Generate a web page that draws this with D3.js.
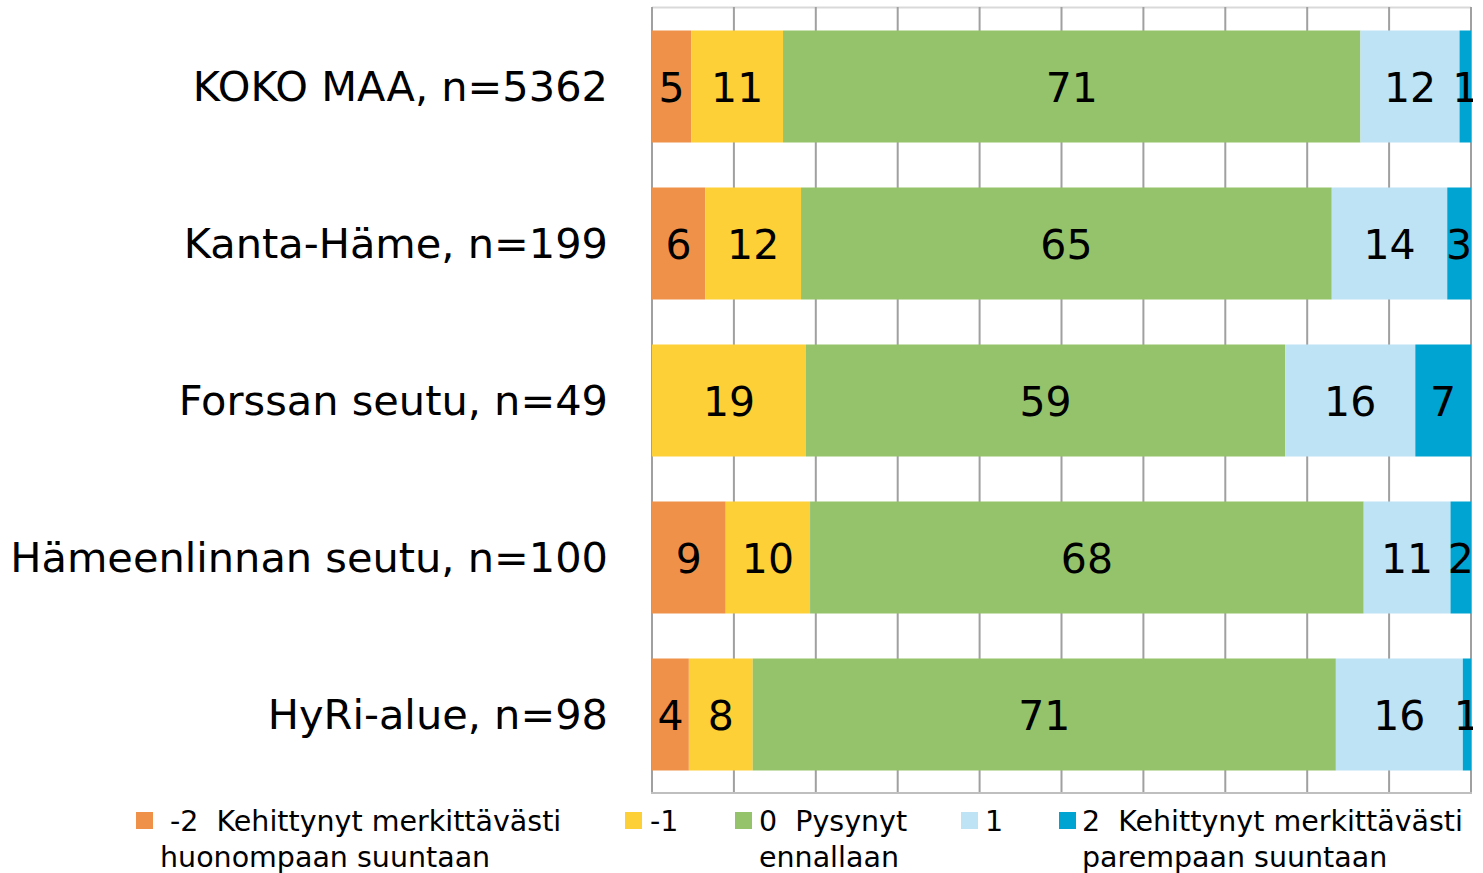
<!DOCTYPE html>
<html>
<head>
<meta charset="utf-8">
<script src="https://cdn.jsdelivr.net/npm/d3@7/dist/d3.min.js"></script>
<style>
  html, body { margin: 0; padding: 0; background: #ffffff; }
  svg { display: block; }
  text { font-family: "DejaVu Sans", Verdana, sans-serif; fill: #000; }
</style>
</head>
<body>
<svg id="chart" width="1483" height="873"></svg>
<script>
// ---- data ----
const categories = ["KOKO MAA, n=5362", "Kanta-Häme, n=199", "Forssan seutu, n=49", "Hämeenlinnan seutu, n=100", "HyRi-alue, n=98"];
const seriesNames = ["-2  Kehittynyt merkittävästi|huonompaan suuntaan", "-1", "0  Pysynyt|ennallaan", "1", "2  Kehittynyt merkittävästi|parempaan suuntaan"];
const seriesColors = ["#F0914A", "#FDD037", "#95C36B", "#BEE3F5", "#00A4D2"];
// percentage shares (labels show rounded values)
const sMinus2 = [4.8, 6.5, 0, 9.0, 4.5];
const sMinus1 = [11.2, 11.7, 18.8, 10.3, 7.8];
const sZero   = [70.5, 64.8, 58.5, 67.6, 71.2];
const sPlus1  = [12.1, 14.1, 15.9, 10.6, 15.5];
const sPlus2  = [1.4, 2.9, 6.8, 2.5, 1.0];
const labMinus2 = [5, 6, null, 9, 4];
const labMinus1 = [11, 12, 19, 10, 8];
const labZero   = [71, 65, 59, 68, 71];
const labPlus1  = [12, 14, 16, 11, 16];
const labPlus2  = [1, 3, 7, 2, 1];
const xTicks = [0, 10, 20, 30, 40, 50, 60, 70, 80, 90, 100];

const seriesVals = [sMinus2, sMinus1, sZero, sPlus1, sPlus2];
const seriesLabs = [labMinus2, labMinus1, labZero, labPlus1, labPlus2];

// ---- layout ----
const svg = d3.select("#chart");
const plot = { left: 652, right: 1471, top: 8, bottom: 793 };

const x = d3.scaleLinear().domain([0, 100]).range([plot.left, plot.right]);
const y = d3.scaleBand().domain(categories).range([plot.top, plot.bottom])
  .paddingInner(0.2866).paddingOuter(0.1433);

// plot border (top light)
svg.append("line")
  .attr("x1", plot.left).attr("x2", plot.right)
  .attr("y1", plot.top - 0.5).attr("y2", plot.top - 0.5)
  .attr("stroke", "#D9D9D9").attr("stroke-width", 2);

// gridlines
svg.append("g").selectAll("line").data(xTicks).join("line")
  .attr("x1", d => x(d)).attr("x2", d => x(d))
  .attr("y1", plot.top - 1).attr("y2", plot.bottom)
  .attr("stroke", "#A0A0A0").attr("stroke-width", 2);

// bottom axis line
svg.append("line")
  .attr("x1", plot.left - 1).attr("x2", plot.right + 1)
  .attr("y1", plot.bottom).attr("y2", plot.bottom)
  .attr("stroke", "#BFBFBF").attr("stroke-width", 2);

// stacked data
const rows = categories.map((c, i) => {
  let acc = 0;
  return seriesVals.map((s, k) => {
    const v = s[i];
    const seg = { cat: c, k, x0: acc, x1: acc + v, lab: seriesLabs[k][i] };
    acc += v;
    return seg;
  });
}).flat();

svg.append("defs").append("clipPath").attr("id", "clip")
  .append("rect").attr("x", plot.left).attr("y", 0)
  .attr("width", plot.right - plot.left + 2).attr("height", 873);

const g = svg.append("g").attr("clip-path", "url(#clip)");

g.selectAll("rect.seg").data(rows.filter(d => d.x1 > d.x0)).join("rect")
  .attr("class", "seg")
  .attr("x", d => x(d.x0))
  .attr("y", d => y(d.cat))
  .attr("width", d => x(d.x1) - x(d.x0))
  .attr("height", y.bandwidth())
  .attr("fill", d => seriesColors[d.k]);

g.selectAll("text.lab").data(rows.filter(d => d.lab != null)).join("text")
  .attr("class", "lab")
  .attr("x", d => x((d.x0 + d.x1) / 2))
  .attr("y", d => y(d.cat) + y.bandwidth() / 2 + 1)
  .attr("text-anchor", "middle")
  .attr("dominant-baseline", "central")
  .attr("font-size", 41)
  .text(d => d.lab);

// category labels
svg.append("g").selectAll("text").data(categories).join("text")
  .attr("x", 608)
  .attr("y", d => y(d) + y.bandwidth() / 2)
  .attr("text-anchor", "end")
  .attr("dominant-baseline", "central")
  .attr("font-size", 41.5)
  .text(d => d);

// legend
const legendMarkerX = [136, 625, 735, 961, 1059];
const legendTextX = [170, 650, 759, 985, 1082];
const legendLine2X = [160, 650, 759, 985, 1082];
const lg = svg.append("g");
seriesNames.forEach((name, k) => {
  const parts = name.split("|");
  lg.append("rect")
    .attr("x", legendMarkerX[k]).attr("y", 812)
    .attr("width", 17).attr("height", 17)
    .attr("fill", seriesColors[k]);
  lg.append("text")
    .attr("x", legendTextX[k]).attr("y", 831)
    .attr("font-size", 28.5)
    .style("white-space", "pre")
    .text(parts[0]);
  if (parts[1]) {
    lg.append("text")
      .attr("x", legendLine2X[k]).attr("y", 867)
      .attr("font-size", 28.5)
      .style("white-space", "pre")
      .text(parts[1]);
  }
});
</script>
</body>
</html>
